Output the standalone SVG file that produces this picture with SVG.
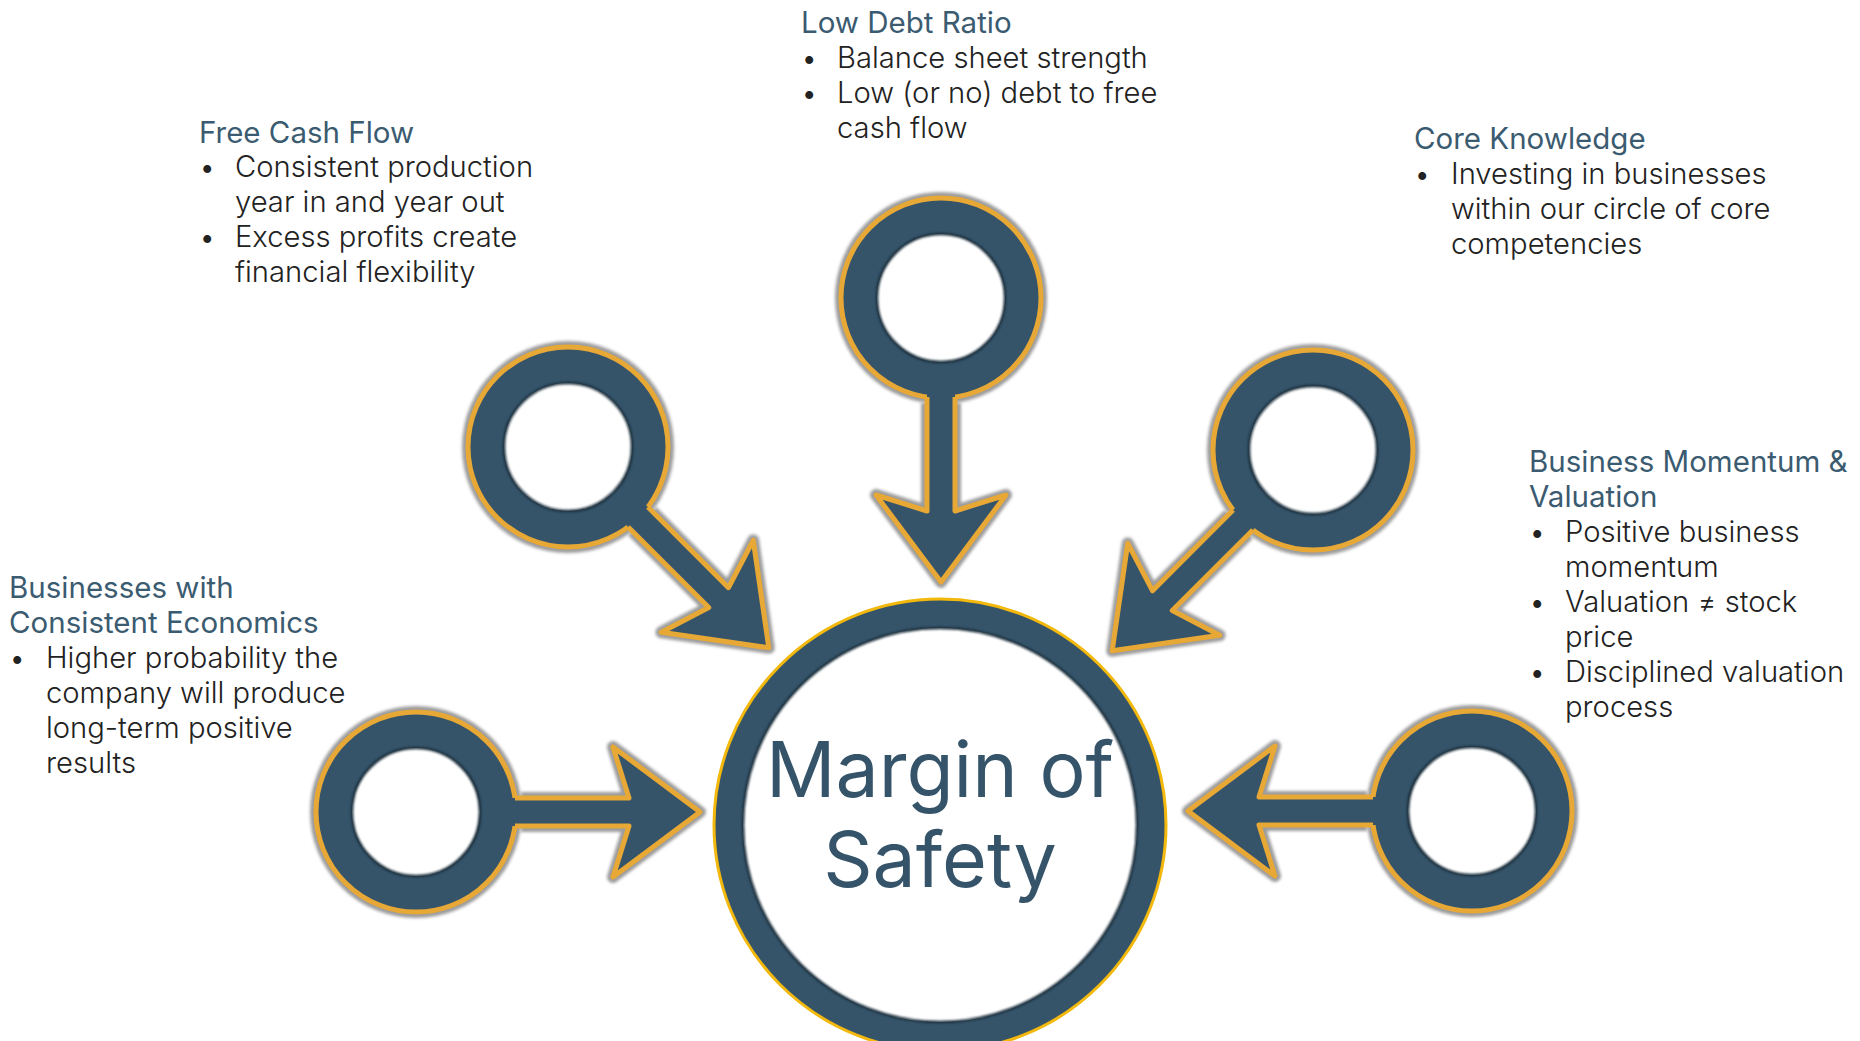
<svg xmlns="http://www.w3.org/2000/svg" xmlns:xlink="http://www.w3.org/1999/xlink" width="1860" height="1041" viewBox="0 0 1860 1041">
<style>
.shadow{fill:#9c9c9c;stroke:#9c9c9c;stroke-width:12;stroke-linejoin:round;filter:url(#blur)}
.ring{fill:#35546A;stroke:#E8A835;stroke-width:5}
.hole{fill:#ffffff}
.holeedge{fill:none;stroke:#1c2e3a;stroke-width:2.5;filter:url(#blur1)}
.afill{fill:#35546A;stroke:none}
.aline{fill:none;stroke:#E8A835;stroke-width:5;stroke-linejoin:round;stroke-linecap:butt}
.head{font-family:Inter,"Liberation Sans",sans-serif;font-size:29.5px;fill:#3B5B71;font-weight:400}
.body{font-family:Inter,"Liberation Sans",sans-serif;font-size:29.2px;fill:#222222;font-weight:300}
.big{font-family:Inter,"Liberation Sans",sans-serif;font-size:77px;fill:#35546A;font-weight:400;text-anchor:middle}
</style>
<defs>
<filter id="blur" x="-20%" y="-20%" width="140%" height="140%"><feGaussianBlur stdDeviation="1.6"/></filter>
<filter id="blur1" x="-20%" y="-20%" width="140%" height="140%"><feGaussianBlur stdDeviation="1.2"/></filter>
<path id="arrowFill" d="M -14,90 L -14,213 L -65,197 L 0,284 L 65,197 L 14,213 L 14,90 Z"/>
<path id="arrowLine" d="M -14,99 L -14,213 L -65,197 L 0,284 L 65,197 L 14,213 L 14,99"/>
<path id="arrowShadow" d="M -14,105 L -14,213 L -65,197 L 0,284 L 65,197 L 14,213 L 14,105"/>
<g id="knob">
<circle class="shadow" r="100"/>
<circle class="ring" r="100"/>
<circle class="hole" r="64"/>
<circle class="holeedge" r="64"/>
</g>
</defs>
<rect width="1860" height="1041" fill="#ffffff"/>

<g id="node-free-cash-flow">
<use href="#knob" transform="translate(568,447) rotate(-45)"/>
<text class="head" x="199" y="143">Free Cash Flow</text>
<text class="body"><tspan x="199" y="177">•</tspan><tspan x="235" y="177">Consistent production</tspan><tspan x="235" y="212">year in and year out</tspan><tspan x="199" y="247">•</tspan><tspan x="235" y="247">Excess profits create</tspan><tspan x="235" y="282">financial flexibility</tspan></text>
</g>

<g id="node-low-debt">
<use href="#knob" transform="translate(941,298)"/>
<text class="head" x="801" y="33">Low Debt Ratio</text>
<text class="body"><tspan x="801" y="68">•</tspan><tspan x="837" y="68">Balance sheet strength</tspan><tspan x="801" y="103">•</tspan><tspan x="837" y="103">Low (or no) debt to free</tspan><tspan x="837" y="138">cash flow</tspan></text>
</g>

<g id="node-core-knowledge">
<use href="#knob" transform="translate(1313,450) rotate(45)"/>
<text class="head" x="1414" y="149">Core Knowledge</text>
<text class="body"><tspan x="1414" y="184">•</tspan><tspan x="1451" y="184">Investing in businesses</tspan><tspan x="1451" y="219">within our circle of core</tspan><tspan x="1451" y="254">competencies</tspan></text>
</g>

<g id="node-consistent-economics">
<use href="#knob" transform="translate(416,812) rotate(-90)"/>
<text class="head"><tspan x="9" y="598">Businesses with</tspan><tspan x="9" y="633">Consistent Economics</tspan></text>
<text class="body"><tspan x="9" y="668">•</tspan><tspan x="46" y="668">Higher probability the</tspan><tspan x="46" y="703">company will produce</tspan><tspan x="46" y="738">long-term positive</tspan><tspan x="46" y="773">results</tspan></text>
</g>

<g id="node-momentum-valuation">
<use href="#knob" transform="translate(1472,811) rotate(90)"/>
<text class="head"><tspan x="1529" y="472">Business Momentum &amp;</tspan><tspan x="1529" y="507">Valuation</tspan></text>
<text class="body"><tspan x="1529" y="542">•</tspan><tspan x="1565" y="542">Positive business</tspan><tspan x="1565" y="577">momentum</tspan><tspan x="1529" y="612">•</tspan><tspan x="1565" y="612">Valuation ≠ stock</tspan><tspan x="1565" y="647">price</tspan><tspan x="1529" y="682">•</tspan><tspan x="1565" y="682">Disciplined valuation</tspan><tspan x="1565" y="717">process</tspan></text>
</g>

<g id="connectors">
<g transform="translate(568,447) rotate(-45)"><use href="#arrowShadow" class="shadow"/><use href="#arrowFill" class="afill"/><use href="#arrowLine" class="aline"/></g>
<g transform="translate(941,298)"><use href="#arrowShadow" class="shadow"/><use href="#arrowFill" class="afill"/><use href="#arrowLine" class="aline"/></g>
<g transform="translate(1313,450) rotate(45)"><use href="#arrowShadow" class="shadow"/><use href="#arrowFill" class="afill"/><use href="#arrowLine" class="aline"/></g>
<g transform="translate(416,812) rotate(-90)"><use href="#arrowShadow" class="shadow"/><use href="#arrowFill" class="afill"/><use href="#arrowLine" class="aline"/></g>
<g transform="translate(1472,811) rotate(90)"><use href="#arrowShadow" class="shadow"/><use href="#arrowFill" class="afill"/><use href="#arrowLine" class="aline"/></g>
</g>

<g id="node-margin-of-safety">
<circle cx="940" cy="825" r="226" fill="#35546A" stroke="#F3B80C" stroke-width="3"/>
<circle cx="940" cy="825" r="197" fill="#ffffff"/>
<circle cx="940" cy="825" r="197" class="holeedge"/>
<text class="big"><tspan x="940" y="797">Margin of</tspan><tspan x="940" y="887">Safety</tspan></text>
</g>
</svg>
